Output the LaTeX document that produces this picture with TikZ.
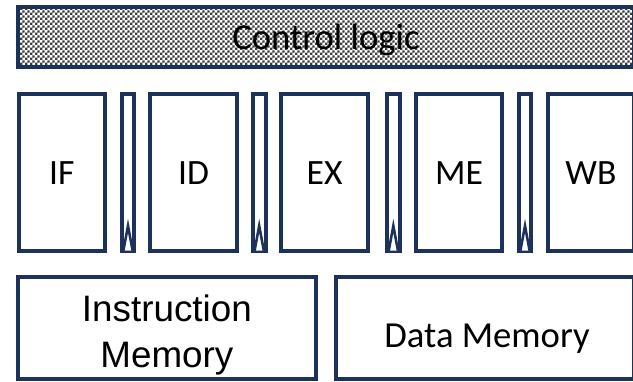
\documentclass[tikz,border=0pt]{standalone}
\usepackage{fontspec}
\usetikzlibrary{fit,calc,patterns.meta}
\newfontfamily\carlito{Carlito}
\newfontfamily\arialish{Liberation Sans}
\definecolor{navy}{RGB}{28,50,92}
\definecolor{checkgray}{RGB}{60,60,60}

% fine checkerboard used for the control logic block
\pgfdeclarepattern{
  name=finechecker, type=uncolored,
  bottom left={\pgfpointorigin}, top right={\pgfpoint{3.9pt}{3.9pt}},
  tile size={\pgfpoint{3.9pt}{3.9pt}},
  code={
    \pgfpathrectangle{\pgfpointorigin}{\pgfpoint{1.95pt}{1.95pt}}
    \pgfpathrectangle{\pgfpoint{1.95pt}{1.95pt}}{\pgfpoint{1.95pt}{1.95pt}}
    \pgfusepath{fill}
  }
}

\tikzset{
  box/.style={draw=navy, line width=3pt, inner sep=0pt, outer sep=0pt, rectangle},
  latchbox/.style={box, line width=2.8pt},
  label/.style={inner sep=0pt, anchor=base},
  stagetext/.style={label, font=\carlito\fontsize{26.7}{30}\selectfont},
  clk/.style={draw=navy, line width=1.9pt, line join=miter, fill=white},
}

\begin{document}
\begin{tikzpicture}[x=0.75pt, y=-0.75pt]
  \useasboundingbox (0,0) rectangle (633,382);
  \fill[white] (0,0) rectangle (633,382);
  \clip (0,0) rectangle (633,382);

  % control logic
  \fill[pattern=finechecker, pattern color=checkgray] (18,6.5) rectangle (634,66.5);
  \node[box, fit={(18,6.5) (634,66.5)}] (ctrl) {};
  \node[label, font=\carlito\fontsize{27.5}{30}\selectfont] (ctrltxt)
    at ($(ctrl.center)+(0,13.5)$) {Control logic};

  % pipeline stages
  \node[box, fit={(18.7,93.7) (105,250.7)}]    (if) {};
  \node[box, fit={(150.3,93.7) (236.7,250.7)}] (id) {};
  \node[box, fit={(281.3,93.7) (368,250.7)}]   (ex) {};
  \node[box, fit={(416,93.7) (502.3,250.7)}]   (me) {};
  \node[box, fit={(547.7,93.7) (634,250.7)}]   (wb) {};
  \node[stagetext] (iftxt) at ($(if.center)+(0,11.8)$) {IF};
  \node[stagetext] (idtxt) at ($(id.center)+(0,11.8)$) {ID};
  \node[stagetext] (extxt) at ($(ex.center)+(0,11.8)$) {EX};
  \node[stagetext] (metxt) at ($(me.center)+(0,11.8)$) {ME};
  \node[stagetext] (wbtxt) at ($(wb.center)+(0,11.8)$) {WB};

  % pipeline registers
  \node[latchbox, fit={(122,93.7) (134,250.7)}]       (r1) {};
  \node[latchbox, fit={(252.7,93.7) (265.7,250.7)}]   (r2) {};
  \node[latchbox, fit={(387,93.7) (399.7,250.7)}]     (r3) {};
  \node[latchbox, fit={(518.7,93.7) (531.3,250.7)}]   (r4) {};

  % clock markers at the bottom of each register
  \foreach \r in {r1,r2,r3,r4}{
    \draw[clk] ($(\r.south)+(-4.6,0)$) -- ($(\r.south)+(0,-25)$) -- ($(\r.south)+(4.6,0)$);
  }

  % memories
  \node[box, fit={(18,277) (315.7,378.7)}] (imem) {};
  \node[box, fit={(336,277) (634,378.7)}]  (dmem) {};
  \node[label, font=\arialish\fontsize{27.6}{30}\selectfont] (imemtxta)
    at ($(imem.center)+(0,-5.9)$) {Instruction};
  \node[label, font=\arialish\fontsize{27.6}{30}\selectfont] (imemtxtb)
    at ($(imem.center)+(0,40.1)$) {Memory};
  \node[label, font=\carlito\fontsize{27.5}{30}\selectfont] (dmemtxt)
    at ($(dmem.center)+(2,19.2)$) {Data Memory};
\end{tikzpicture}
\end{document}
